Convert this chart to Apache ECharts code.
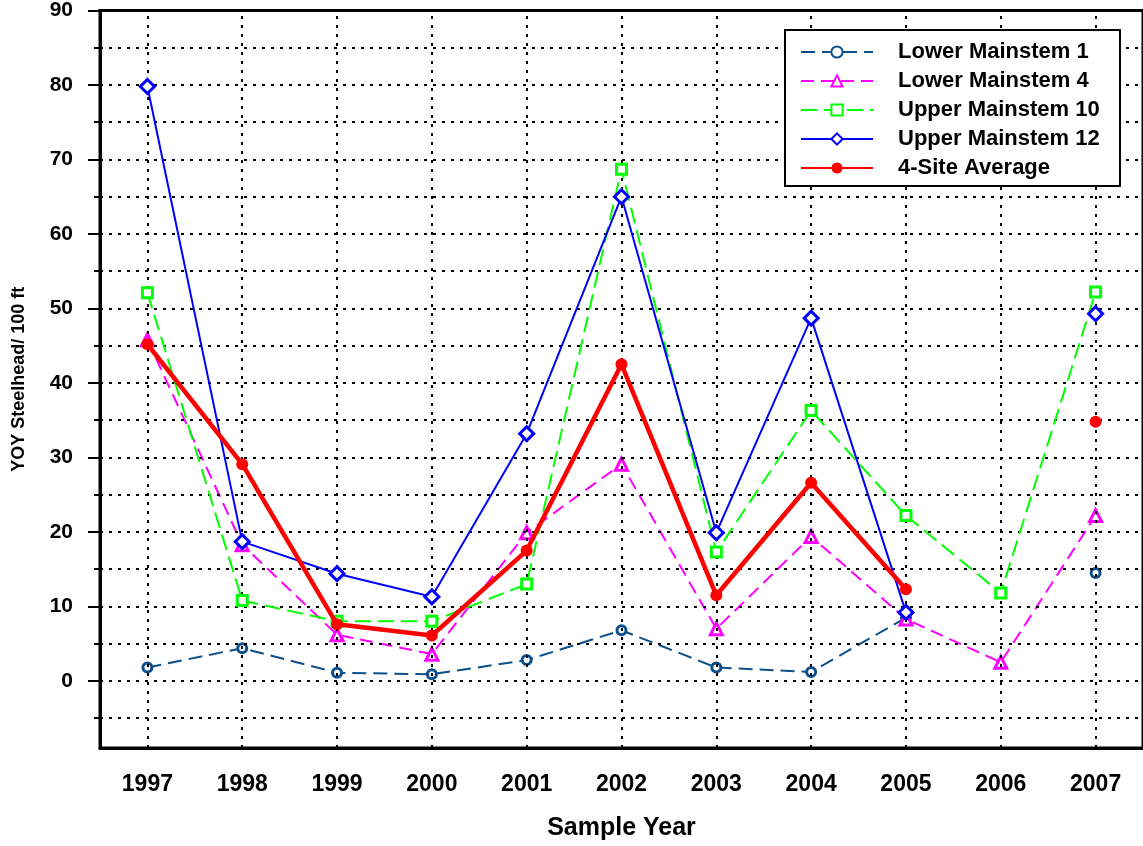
<!DOCTYPE html>
<html>
<head>
<meta charset="utf-8">
<script src="https://cdn.jsdelivr.net/npm/echarts@6/dist/echarts.min.js"></script>
<style>
html,body{margin:0;padding:0;background:#fff;}
#chart{width:1143px;height:846px;}
</style>
</head>
<body>
<div id="chart"></div>
<script>
const years = ['1997','1998','1999','2000','2001','2002','2003','2004','2005','2006','2007'];
const lowerMainstem1  = [1.8, 4.4, 1.1, 0.9, 2.8, 6.8, 1.8, 1.2, 8.5, null, 14.5];
const lowerMainstem4  = [45.8, 18.3, 6.2, 3.6, 19.9, 29.1, 7.0, 19.4, 8.3, 2.5, 22.2];
const upperMainstem10 = [52.1, 10.8, 8.0, 8.0, 13.0, 68.7, 17.3, 36.3, 22.2, 11.8, 52.2];
const upperMainstem12 = [79.8, 18.7, 14.4, 11.3, 33.2, 65.0, 19.9, 48.7, 9.2, null, 49.3];
const siteAverage     = [45.2, 29.1, 7.6, 6.1, 17.5, 42.5, 11.5, 26.6, 12.3, null, 34.8];

const yLabelValues = [0, 10, 20, 30, 40, 50, 60, 70, 80, 90];
const yMinorTicks  = [-5, 5, 15, 25, 35, 45, 55, 65, 75, 85];
const yGridValues  = [-5, 0, 5, 10, 15, 20, 25, 30, 35, 40, 45, 50, 55, 60, 65, 70, 75, 80, 85];

const FONT = "'Liberation Sans', Arial, sans-serif";
const chart = echarts.init(document.getElementById('chart'));

const gridLines = yGridValues.map(v => ({ yAxis: v }))
  .concat(years.map(y => ({ xAxis: y })));

function lineSeries(name, data, color, symbol, size, width, dash, z, filled) {
  return {
    name: name, type: 'line', data: data, z: z,
    symbol: symbol, symbolSize: size, showAllSymbol: true,
    itemStyle: filled
      ? { color: color, borderColor: color, borderWidth: 0 }
      : { color: '#ffffff', borderColor: color, borderWidth: 3 },
    lineStyle: { color: color, width: width, type: dash || 'solid' },
    emphasis: { disabled: true }
  };
}

chart.setOption({
  backgroundColor: '#fff',
  animation: false,
  textStyle: { fontFamily: FONT },
  grid: {
    left: 100, top: 7, right: -4, bottom: 97,
    show: true, borderColor: '#000', borderWidth: 3, backgroundColor: 'transparent'
  },
  graphic: [{
    type: 'rect', z: 50,
    shape: { x: 785, y: 30, width: 335, height: 156 },
    style: { fill: '#fff', stroke: '#000', lineWidth: 2 }
  }],
  legend: {
    z: 60,
    orient: 'vertical', left: 785, top: 30,
    padding: [11, 10, 10, 15],
    itemWidth: 72, itemHeight: 14, itemGap: 7,
    textStyle: { fontFamily: FONT, fontWeight: 'bold', fontSize: 22, color: '#000', padding: [0, 0, 0, 20], lineHeight: 20 },
    data: ['Lower Mainstem 1', 'Lower Mainstem 4', 'Upper Mainstem 10', 'Upper Mainstem 12', '4-Site Average']
  },
  xAxis: {
    type: 'category', data: years, boundaryGap: true,
    name: 'Sample Year', nameLocation: 'middle', nameGap: 68,
    nameTextStyle: { fontFamily: FONT, fontWeight: 'bold', fontSize: 25, color: '#000' },
    axisLine: { onZero: false, lineStyle: { color: '#000', width: 3 } },
    axisTick: { alignWithLabel: true, length: 11, lineStyle: { color: '#000', width: 2 } },
    axisLabel: { fontFamily: FONT, fontWeight: 'bold', fontSize: 23, color: '#000', margin: 25 },
    splitLine: { show: false }
  },
  yAxis: [{
    type: 'value', min: -9, max: 90, position: 'left',
    name: 'YOY Steelhead/ 100 ft', nameLocation: 'middle', nameGap: 72,
    nameTextStyle: { fontFamily: FONT, fontWeight: 'bold', fontSize: 18, color: '#000' },
    axisLine: { show: true, onZero: false, lineStyle: { color: '#000', width: 3 } },
    axisTick: { show: true, customValues: yLabelValues, length: 12, lineStyle: { color: '#000', width: 2 } },
    axisLabel: { customValues: yLabelValues, fontFamily: FONT, fontWeight: 'bold', fontSize: 21, color: '#000', margin: 27 },
    splitLine: { show: false }
  }, {
    type: 'value', min: -9, max: 90, position: 'left', offset: 0,
    axisLine: { show: false },
    axisTick: { show: true, customValues: yMinorTicks, length: 6, lineStyle: { color: '#000', width: 2 } },
    axisLabel: { show: false },
    splitLine: { show: false }
  }],
  series: [
    {
      name: 'gridlines', type: 'line', data: [], z: 1, silent: true,
      markLine: {
        silent: true, symbol: 'none', animation: false,
        label: { show: false },
        lineStyle: { color: '#000', type: [3, 6], width: 2 },
        emphasis: { disabled: true },
        data: gridLines
      }
    },
    lineSeries('Lower Mainstem 1', lowerMainstem1, '#0d4f8b', 'circle', 9, 2, [14, 7], 3, false),
    lineSeries('Lower Mainstem 4', lowerMainstem4, '#ff00ff', 'triangle', 12, 2, [13, 7], 4, false),
    lineSeries('Upper Mainstem 10', upperMainstem10, '#00ff00', 'rect', 10, 2, [16, 7], 5, false),
    lineSeries('Upper Mainstem 12', upperMainstem12, '#0000ff', 'diamond', 14, 2, null, 6, false),
    lineSeries('4-Site Average', siteAverage, '#ff0000', 'circle', 12, 4.5, null, 7, true)
  ]
});
</script>
</body>
</html>
